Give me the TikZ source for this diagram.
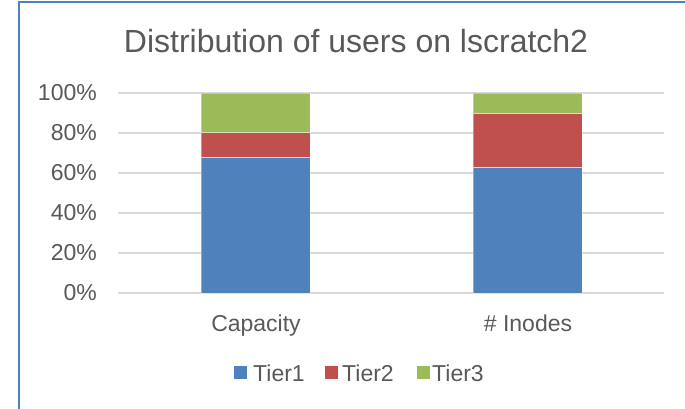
\documentclass[tikz,border=0pt]{standalone}
\usepackage{fontspec}
\setmainfont{Liberation Sans}
\definecolor{tierA}{HTML}{4F81BD}
\definecolor{tierB}{HTML}{C0504D}
\definecolor{tierC}{HTML}{9BBB59}
\definecolor{txt}{HTML}{595959}
\definecolor{grid}{HTML}{D9D9D9}
\definecolor{frame}{HTML}{4F81BD}
\tikzset{
  seg/.style={draw=white, draw opacity=0.35, line width=0.8pt},
  gridline/.style={draw=grid, line width=1.5pt},
  ylab/.style={anchor=base east, text=txt, font=\fontsize{23}{23}\selectfont, inner sep=0pt},
  catlab/.style={anchor=base, text=txt, font=\fontsize{23}{23}\selectfont, inner sep=0pt},
  leglab/.style={anchor=base west, text=txt, font=\fontsize{23}{23}\selectfont, inner sep=0pt},
  legkey/.style={minimum size=12.5pt, inner sep=0pt, anchor=south west},
}
\begin{document}
\begin{tikzpicture}[x=1pt, y=-1pt]
  \useasboundingbox (0,0) rectangle (685,408);
  \fill[white] (0,0) rectangle (685,408);
  % chart frame
  \draw[frame, line width=2pt] (19,420) -- (19,2) -- (700,2);
  % title
  \node[anchor=base, text=txt, font=\fontsize{32}{32}\selectfont, inner sep=0pt] (title) at (356,52) {Distribution of users on lscratch2};
  % gridlines and value axis labels
  \foreach \p/\y in {0/293,20/253,40/213,60/173,80/133,100/93} {
    \draw[gridline] (118,\y) -- (664,\y);
    \node[ylab] (y\p) at (97,\y+7.5) {\p\%};
  }
  % Capacity column: 68 / 12 / 20
  \fill[seg, fill=tierA] (201,293) rectangle (310,157);
  \fill[seg, fill=tierB] (201,157) rectangle (310,132.5);
  \fill[seg, fill=tierC] (201,132.5) rectangle (310,93);
  \draw[seg] (201,157) -- (310,157) (201,132.5) -- (310,132.5);
  % # Inodes column: 63 / 27 / 10
  \fill[seg, fill=tierA] (473,293) rectangle (582,167);
  \fill[seg, fill=tierB] (473,167) rectangle (582,113.5);
  \fill[seg, fill=tierC] (473,113.5) rectangle (582,93);
  \draw[seg] (473,167) -- (582,167) (473,113.5) -- (582,113.5);
  % category labels
  \node[catlab] (cap) at (256,331) {Capacity};
  \node[catlab] (ino) at (528,331) {\# Inodes};
  % legend
  \node[legkey, fill=tierA] (k1) at (234,379) {};
  \node[leglab] (l1) at (253,381) {Tier1};
  \node[legkey, fill=tierB] (k2) at (325,379) {};
  \node[leglab] (l2) at (342,381) {Tier2};
  \node[legkey, fill=tierC] (k3) at (417,379) {};
  \node[leglab] (l3) at (432,381) {Tier3};
\end{tikzpicture}
\end{document}
